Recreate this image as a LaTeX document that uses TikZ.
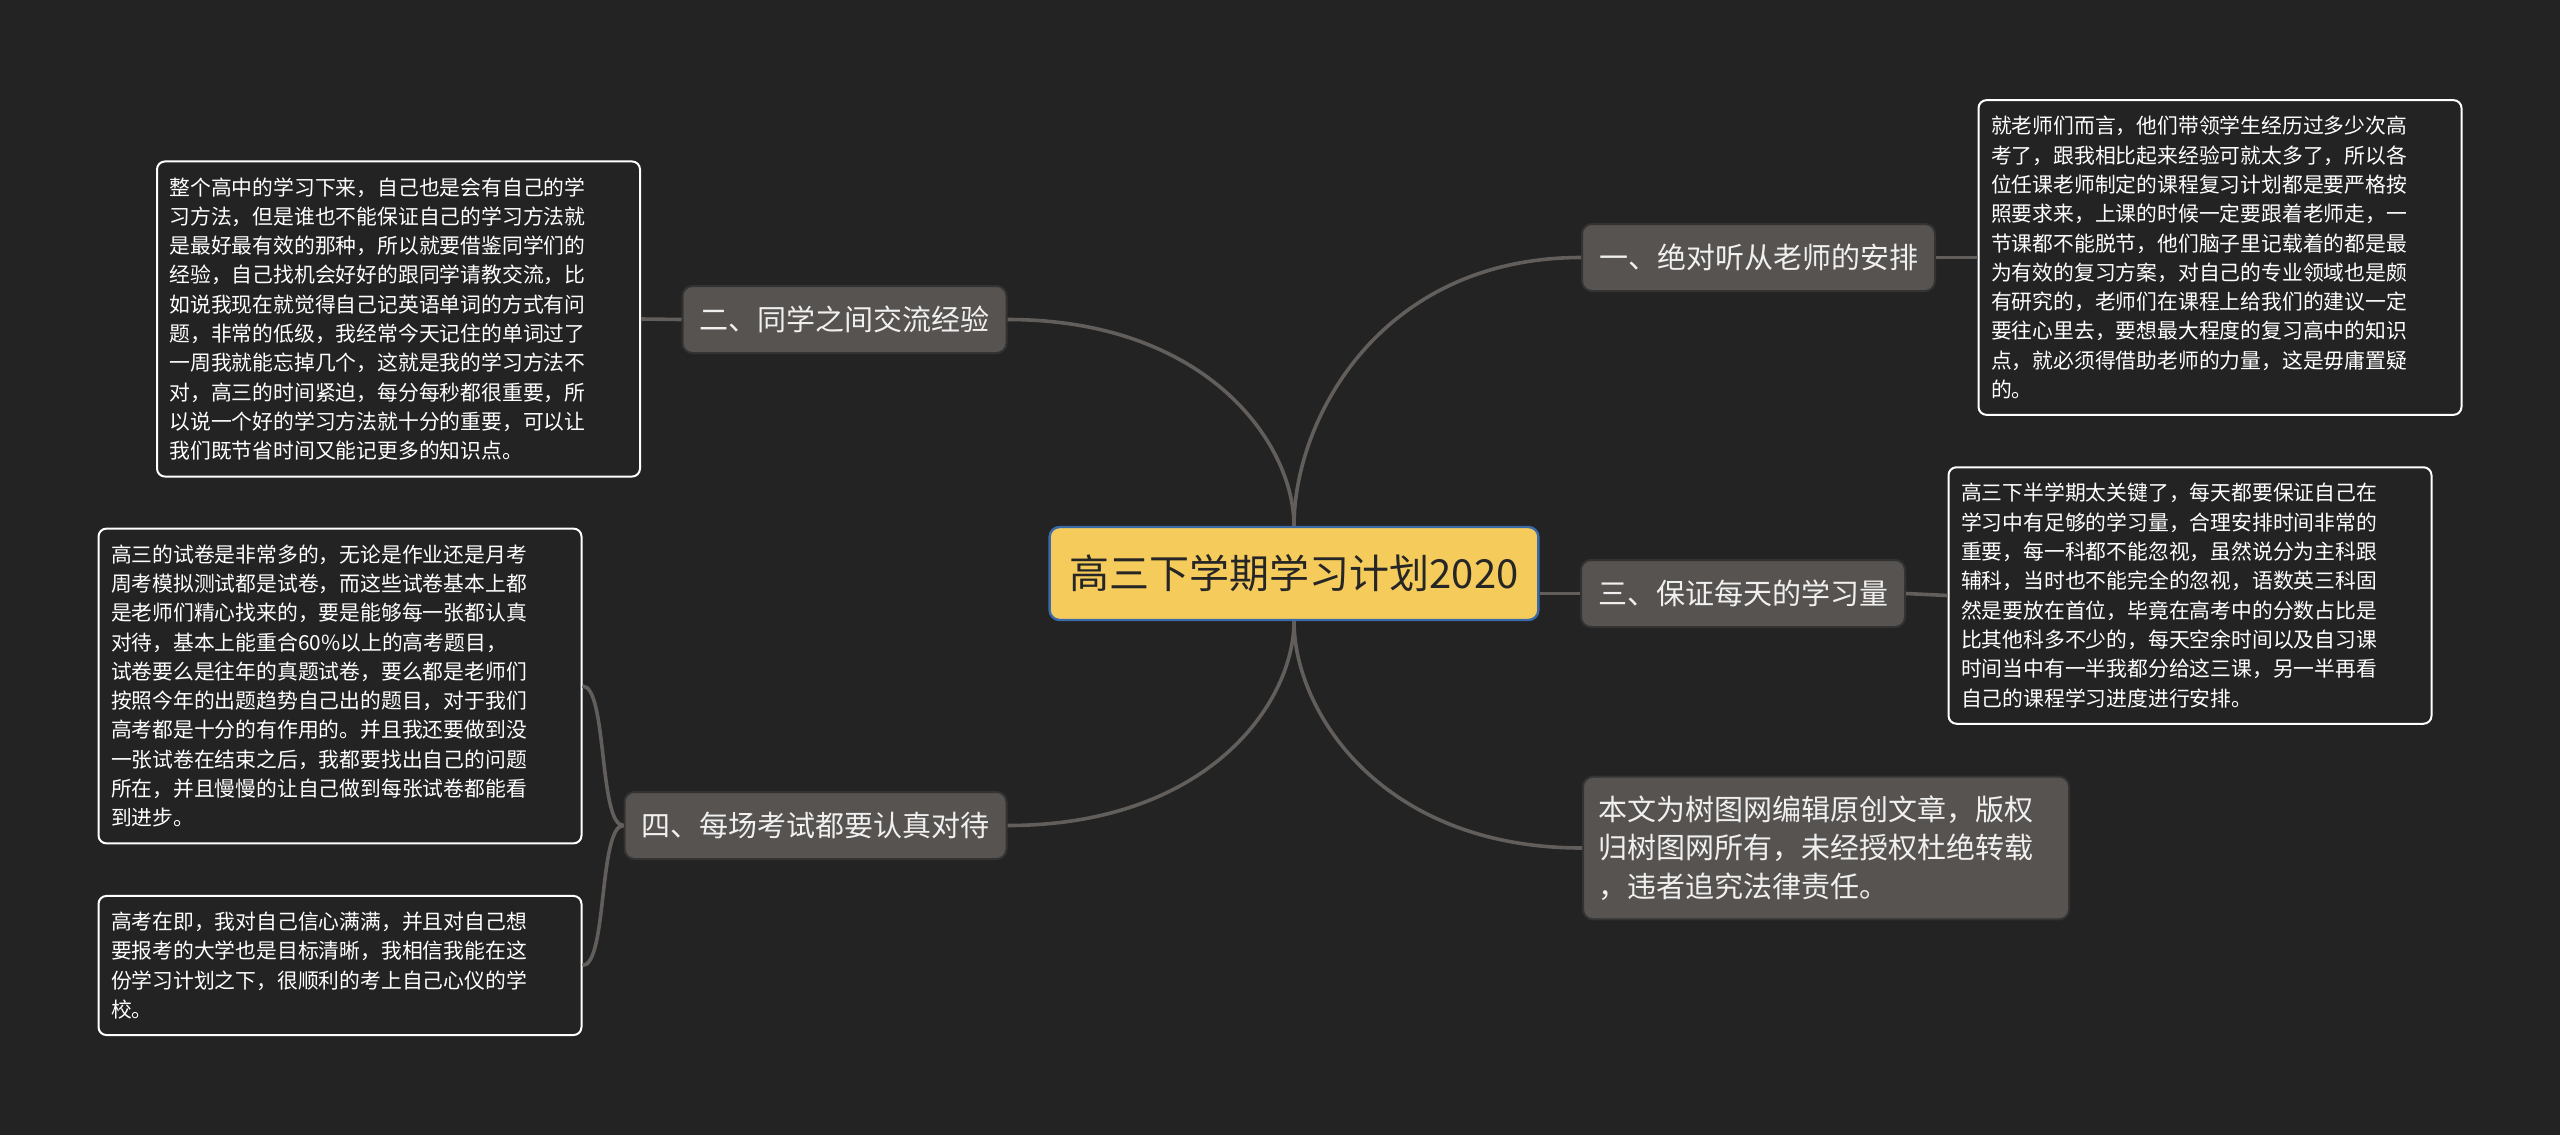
\documentclass[tikz,border=0pt]{standalone}
\usepackage{fontspec}
\setmainfont{Noto Sans CJK SC}
\usepackage{xcolor}
\usepackage{tikz}
\usetikzlibrary{calc}
\definecolor{bgdark}{HTML}{232323}
\definecolor{linegray}{HTML}{615E5B}
\definecolor{branchgray}{HTML}{575350}
\definecolor{rootyellow}{HTML}{F5CB5C}
\definecolor{rootblue}{HTML}{3A6AA8}
\tikzset{
  rootbox/.style={draw=rootblue, line width=1.2pt, fill=rootyellow, rounded corners=5pt,
    text=black!85, minimum width=244pt, minimum height=46.5pt, inner xsep=10pt,
    font=\fontsize{20}{24}\selectfont},
  branchbox/.style={draw=black!80, line width=1pt, fill=branchgray, rounded corners=5pt,
    text=white!94!black, minimum height=33.5pt, inner xsep=8.5pt,
    font=\fontsize{14.5}{17}\selectfont},
  notebox/.style={branchbox, align=left, text width=228pt, inner xsep=7.5pt, inner ysep=9.5pt,
    font=\fontsize{14.5}{19.2}\selectfont},
  leafbox/.style={draw=white, line width=1pt, fill=bgdark, rounded corners=4pt,
    text=white, align=left, text width=229pt, inner xsep=6.25pt, inner ysep=8pt,
    font=\fontsize{10.4}{14.65}\selectfont},
  link/.style={draw=linegray, line width=1.8pt}
}
\begin{document}
\begin{tikzpicture}[x=0.5pt, y=-0.5pt]
\useasboundingbox[fill=bgdark] (0,0) rectangle (2560,1135);

% centre
\node[rootbox] (root) at (1294,573.5) {高三下学期学习计划2020};

% right side
\node[branchbox] (one) at (1758.5,257.5) {一、绝对听从老师的安排};
\node[branchbox] (three) at (1743,593.5) {三、保证每天的学习量};
\node[notebox] (note) at (1826,848) {本文为树图网编辑原创文章，版权\\归树图网所有，未经授权杜绝转载\\，违者追究法律责任。};

\node[leafbox] (oneleaf) at (2220,257.5) {就老师们而言，他们带领学生经历过多少次高\\考了，跟我相比起来经验可就太多了，所以各\\位任课老师制定的课程复习计划都是要严格按\\照要求来，上课的时候一定要跟着老师走，一\\节课都不能脱节，他们脑子里记载着的都是最\\为有效的复习方案，对自己的专业领域也是颇\\有研究的，老师们在课程上给我们的建议一定\\要往心里去，要想最大程度的复习高中的知识\\点，就必须得借助老师的力量，这是毋庸置疑\\的。};
\node[leafbox] (threeleaf) at (2190,595.5) {高三下半学期太关键了，每天都要保证自己在\\学习中有足够的学习量，合理安排时间非常的\\重要，每一科都不能忽视，虽然说分为主科跟\\辅科，当时也不能完全的忽视，语数英三科固\\然是要放在首位，毕竟在高考中的分数占比是\\比其他科多不少的，每天空余时间以及自习课\\时间当中有一半我都分给这三课，另一半再看\\自己的课程学习进度进行安排。};

% left side
\node[branchbox] (two) at (844.5,319.5) {二、同学之间交流经验};
\node[branchbox] (four) at (815.5,825.5) {四、每场考试都要认真对待};

\node[leafbox] (twoleaf) at (398.5,319) {整个高中的学习下来，自己也是会有自己的学\\习方法，但是谁也不能保证自己的学习方法就\\是最好最有效的那种，所以就要借鉴同学们的\\经验，自己找机会好好的跟同学请教交流，比\\如说我现在就觉得自己记英语单词的方式有问\\题，非常的低级，我经常今天记住的单词过了\\一周我就能忘掉几个，这就是我的学习方法不\\对，高三的时间紧迫，每分每秒都很重要，所\\以说一个好的学习方法就十分的重要，可以让\\我们既节省时间又能记更多的知识点。};
\node[leafbox] (fourleafa) at (340,686) {高三的试卷是非常多的，无论是作业还是月考\\周考模拟测试都是试卷，而这些试卷基本上都\\是老师们精心找来的，要是能够每一张都认真\\对待，基本上能重合60\%以上的高考题目，\\试卷要么是往年的真题试卷，要么都是老师们\\按照今年的出题趋势自己出的题目，对于我们\\高考都是十分的有作用的。并且我还要做到没\\一张试卷在结束之后，我都要找出自己的问题\\所在，并且慢慢的让自己做到每张试卷都能看\\到进步。};
\node[leafbox] (fourleafb) at (340,965.5) {高考在即，我对自己信心满满，并且对自己想\\要报考的大学也是目标清晰，我相信我能在这\\份学习计划之下，很顺利的考上自己心仪的学\\校。};

% connectors from the centre
\draw[link] (root.north) .. controls +(0,-107) and +(-200,0) .. (one.west);
\draw[link] (root.north) .. controls +(0,-82) and +(200,0) .. (two.east);
\draw[link] (root.south) .. controls +(0,82) and +(200,0) .. (four.east);
\draw[link] (root.south) .. controls +(0,91) and +(-200,0) .. (note.west);
\draw[link] (three.west) -- (three.west -| root.east);

% connectors to the leaves
\draw[link] (one.east) -- (oneleaf.west);
\draw[link] (three.east) -- (threeleaf.west);
\draw[link] (two.west) -- (twoleaf.east);
\draw[link] (four.west) .. controls +(-25,0) and +(25,0) .. (fourleafa.east);
\draw[link] (four.west) .. controls +(-25,0) and +(25,0) .. (fourleafb.east);
\end{tikzpicture}
\end{document}
